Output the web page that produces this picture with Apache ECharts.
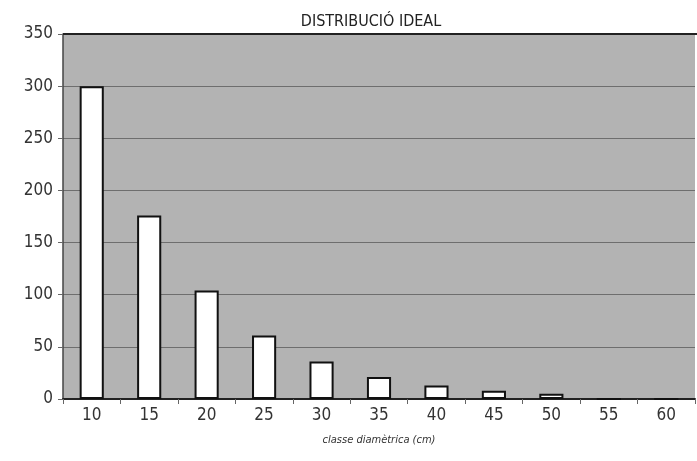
<!DOCTYPE html>
<html><head><meta charset="utf-8">
<script src="https://cdn.jsdelivr.net/npm/echarts@6/dist/echarts.min.js"></script>
<style>html,body{margin:0;padding:0;background:#fff;}#c{width:697px;height:461px;}</style>
</head><body><div id="c"></div>
<script>
const categories = ['10','15','20','25','30','35','40','45','50','55','60'];
const values = [300, 176, 104, 61, 36, 21, 13, 8, 5, 0, 0];
const yTicks = [0, 50, 100, 150, 200, 250, 300, 350];
const titleText = 'DISTRIBUCIÓ IDEAL';
const xName = 'classe diamètrica (cm)';

const FONT = '"DejaVu Sans Condensed", "DejaVu Sans", sans-serif';
const chart = echarts.init(document.getElementById('c'), null, {renderer: 'canvas'});
chart.setOption({
  animation: false,
  backgroundColor: '#ffffff',
  title: {
    text: titleText, left: 366, top: 9, textAlign: 'center',
    textStyle: {fontFamily: FONT, fontSize: 16, fontWeight: 'normal', color: '#222'}
  },
  grid: {left: 63, right: 2, top: 34, bottom: 62, show: true, backgroundColor: '#b3b3b3', borderWidth: 0},
  xAxis: {
    type: 'category', data: categories,
    name: xName, nameLocation: 'middle', nameGap: 36,
    nameTextStyle: {fontFamily: FONT, fontSize: 11, fontStyle: 'italic', color: '#333'},
    axisLine: {lineStyle: {color: '#222', width: 2}},
    axisTick: {show: true, length: 5, lineStyle: {color: '#666'}},
    axisLabel: {fontFamily: FONT, fontSize: 17, color: '#333', margin: 8}
  },
  yAxis: {
    type: 'value', min: yTicks[0], max: yTicks[yTicks.length-1], interval: 50,
    axisLine: {show: true, lineStyle: {color: '#444', width: 1.5}},
    axisTick: {show: true, length: 5, lineStyle: {color: '#666'}},
    axisLabel: {fontFamily: FONT, fontSize: 17, color: '#333', margin: 10},
    splitLine: {lineStyle: {color: '#6e6e6e', width: 1.2}}
  },
  series: [{
    type: 'bar', data: values, barWidth: '42%',
    itemStyle: {color: '#ffffff', borderColor: '#111', borderWidth: 2}
  }],
  graphic: [{type: 'line', shape: {x1: 63, y1: 34, x2: 697, y2: 34}, style: {stroke: '#222', lineWidth: 2}, z: 10}]
});
</script></body></html>
